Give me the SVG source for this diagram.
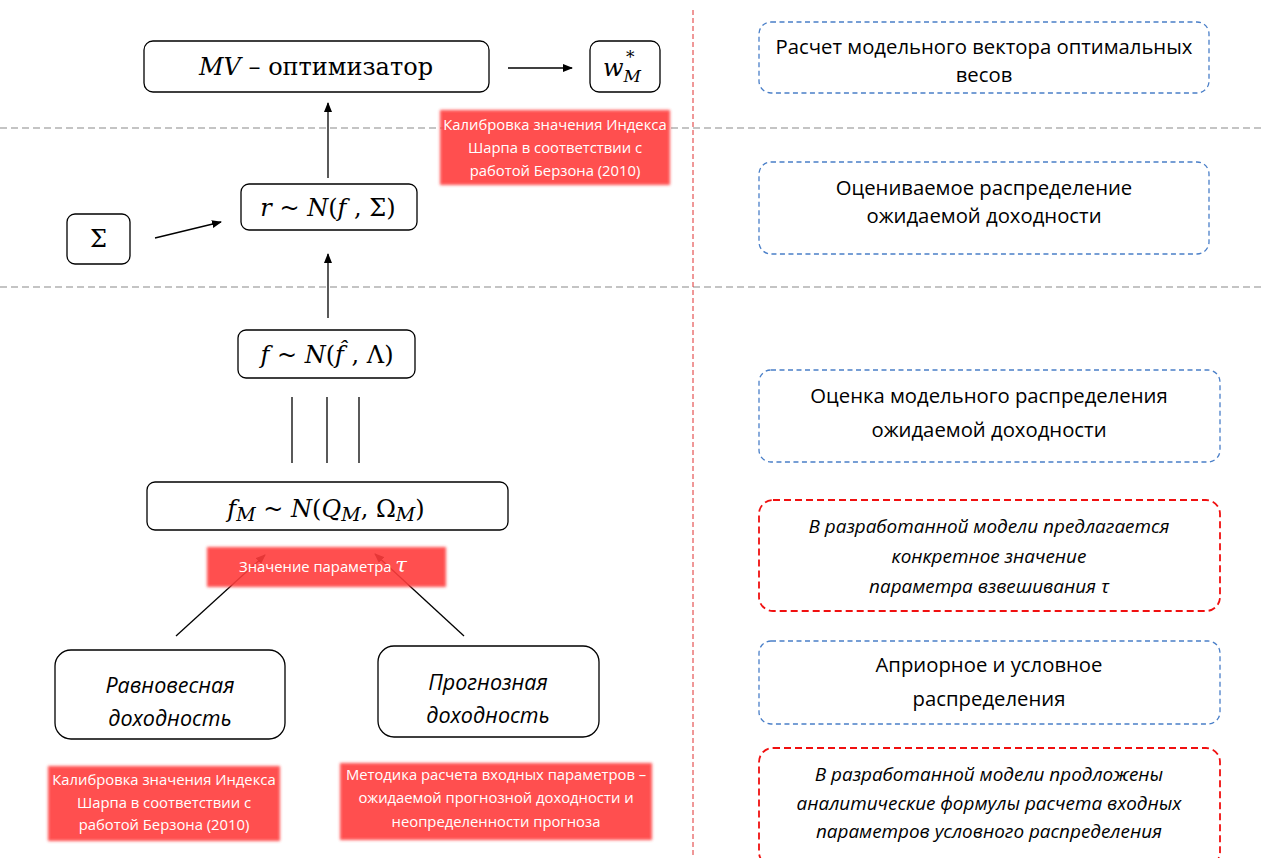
<svg xmlns="http://www.w3.org/2000/svg" width="1262" height="858" viewBox="0 0 1262 858">
<style>
.node{fill:#fff;stroke:#000;stroke-width:1.3}
.math{font-family:"DejaVu Serif","Liberation Serif",serif;font-size:24px;fill:#000}
.it{font-style:italic}
.note{font-family:"Open Sans",Lato,sans-serif;font-size:14.8px;fill:#fff}
.red{fill:#ff3d3d;opacity:0.9;filter:url(#soft)}
.bl{fill:none;stroke:#4a7fc8;stroke-width:1.3;stroke-dasharray:5,3.5}
.rd{fill:none;stroke:#f01010;stroke-width:1.8;stroke-dasharray:7,4}
.rt{font-family:"Open Sans",Lato,sans-serif;font-size:20.3px;fill:#000}
.ri{font-family:"Open Sans",Lato,sans-serif;font-size:18.9px;font-style:italic;fill:#000}
.lbl{font-family:"Open Sans",Lato,sans-serif;font-size:21.5px;font-style:italic;fill:#000}
.conn{stroke:#000;stroke-width:1.3;fill:none}
</style>
<defs>
<filter id="soft" x="-5%" y="-10%" width="110%" height="120%"><feGaussianBlur stdDeviation="1.5"/></filter>
<marker id="ah" markerWidth="10" markerHeight="8" refX="9" refY="4" orient="auto" markerUnits="userSpaceOnUse"><path d="M0,0 L10,4 L0,8 z" fill="#000"/></marker>
</defs>
<rect width="1262" height="858" fill="#fff"/>
<g id="separators">
<line x1="0" y1="128" x2="1262" y2="128" stroke="#8a8a8a" stroke-width="1.2" stroke-dasharray="7,4"/>
<line x1="0" y1="287" x2="1262" y2="287" stroke="#8a8a8a" stroke-width="1.2" stroke-dasharray="7,4"/>
<line x1="693" y1="10" x2="693" y2="858" stroke="#e03030" stroke-width="1" stroke-dasharray="5,3"/>
</g>
<g id="connectors">
<line class="conn" x1="508" y1="68" x2="572" y2="68" marker-end="url(#ah)"/>
<line class="conn" x1="328" y1="178" x2="328" y2="103" marker-end="url(#ah)"/>
<line class="conn" x1="155" y1="238" x2="221" y2="222" marker-end="url(#ah)"/>
<line class="conn" x1="328" y1="318" x2="328" y2="254" marker-end="url(#ah)"/>
<line class="conn" x1="292" y1="397" x2="292" y2="463"/>
<line class="conn" x1="327" y1="397" x2="327" y2="463"/>
<line class="conn" x1="359" y1="397" x2="359" y2="463"/>
<line class="conn" x1="176" y1="636" x2="265" y2="555" marker-end="url(#ah)"/>
<line class="conn" x1="464" y1="636" x2="375" y2="554" marker-end="url(#ah)"/>
</g>
<g id="mv">
<rect class="node" x="144" y="41" width="345" height="51" rx="9"/>
<text class="math" x="316" y="75" text-anchor="middle" font-size="23"><tspan class="it">MV</tspan> – оптимизатор</text>
</g>
<g id="w">
<rect class="node" x="590" y="41" width="70" height="51" rx="9"/>
<text class="math" x="603" y="76" font-size="26"><tspan class="it">w</tspan><tspan class="it" font-size="17" dy="6">M</tspan><tspan font-size="17" dx="-15" dy="-19">*</tspan></text>
</g>
<g id="note-sharpe-top">
<rect class="red" x="440" y="110" width="230" height="75"/>
<text class="note" x="555" text-anchor="middle"><tspan x="555" y="130">Калибровка значения Индекса</tspan><tspan x="555" y="153">Шарпа в соответствии с</tspan><tspan x="555" y="176">работой  Берзона (2010)</tspan></text>
</g>
<g id="r">
<rect class="node" x="241" y="184" width="176" height="46" rx="8"/>
<text class="math" x="328" y="216" text-anchor="middle" font-size="23.5"><tspan class="it">r</tspan> ~ <tspan class="it">N</tspan>(<tspan class="it">f</tspan> , Σ)</text>
</g>
<g id="sigma">
<rect class="node" x="67" y="214" width="63" height="50" rx="8"/>
<text class="math" x="98.5" y="247" text-anchor="middle">Σ</text>
</g>
<g id="f">
<rect class="node" x="238" y="330" width="177" height="48" rx="8"/>
<text class="math" x="327" y="363" text-anchor="middle" font-size="25"><tspan class="it">f</tspan> ~ <tspan class="it">N</tspan>(<tspan class="it">f̂</tspan> , Λ)</text>
</g>
<g id="fm">
<rect class="node" x="147" y="482" width="361" height="48" rx="8"/>
<text class="math" x="326" y="517" text-anchor="middle" font-size="27.5"><tspan class="it">f</tspan><tspan class="it" font-size="19" dy="4">M</tspan><tspan dy="-4"> ~ </tspan><tspan class="it">N</tspan>(<tspan class="it">Q</tspan><tspan class="it" font-size="19" dy="4">M</tspan><tspan dy="-4">, Ω</tspan><tspan class="it" font-size="19" dy="4">M</tspan><tspan dy="-4">)</tspan></text>
</g>
<g id="note-tau">
<rect class="red" x="207" y="547" width="239" height="40"/>
<text class="note" x="323" y="572" text-anchor="middle">Значение параметра <tspan font-family="DejaVu Serif,serif" font-style="italic" font-size="21">τ</tspan></text>
</g>
<g id="eq">
<rect class="node" x="55" y="650" width="230" height="89" rx="16"/>
<text class="lbl" text-anchor="middle"><tspan x="170" y="693">Равновесная</tspan><tspan x="170" y="726">доходность</tspan></text>
</g>
<g id="fc">
<rect class="node" x="378" y="646" width="221" height="91" rx="16"/>
<text class="lbl" text-anchor="middle"><tspan x="488" y="690">Прогнозная</tspan><tspan x="488" y="723">доходность</tspan></text>
</g>
<g id="note-sharpe-bottom">
<rect class="red" x="48" y="766" width="232" height="75"/>
<text class="note" text-anchor="middle"><tspan x="164" y="785">Калибровка значения Индекса</tspan><tspan x="164" y="808">Шарпа в соответствии с</tspan><tspan x="164" y="830">работой  Берзона (2010)</tspan></text>
</g>
<g id="note-method">
<rect class="red" x="340" y="763" width="312" height="77"/>
<text class="note" text-anchor="middle"><tspan x="496" y="780">Методика расчета входных параметров –</tspan><tspan x="496" y="803">ожидаемой прогнозной доходности и</tspan><tspan x="496" y="827">неопределенности прогноза</tspan></text>
</g>
<g id="desc1">
<rect class="bl" x="759" y="22" width="450" height="71" rx="12"/>
<text class="rt" text-anchor="middle"><tspan x="984" y="54">Расчет модельного вектора оптимальных</tspan><tspan x="984" y="82">весов</tspan></text>
</g>
<g id="desc2">
<rect class="bl" x="759" y="162" width="450" height="92" rx="12"/>
<text class="rt" text-anchor="middle"><tspan x="984" y="195">Оцениваемое распределение</tspan><tspan x="984" y="223">ожидаемой доходности</tspan></text>
</g>
<g id="desc3">
<rect class="bl" x="759" y="370" width="461" height="92" rx="12"/>
<text class="rt" text-anchor="middle"><tspan x="989" y="403">Оценка модельного распределения</tspan><tspan x="989" y="437">ожидаемой доходности</tspan></text>
</g>
<g id="desc4">
<rect class="rd" x="759" y="500" width="461" height="111" rx="14"/>
<text class="ri" text-anchor="middle"><tspan x="989" y="533">В разработанной модели предлагается</tspan><tspan x="989" y="563">конкретное значение</tspan><tspan x="989" y="593">параметра взвешивания τ</tspan></text>
</g>
<g id="desc5">
<rect class="bl" x="759" y="641" width="461" height="83" rx="12"/>
<text class="rt" text-anchor="middle"><tspan x="989" y="672">Априорное и условное</tspan><tspan x="989" y="706">распределения</tspan></text>
</g>
<g id="desc6">
<rect class="rd" x="759" y="748" width="461" height="118" rx="14"/>
<text class="ri" text-anchor="middle"><tspan x="989" y="781">В разработанной модели продложены</tspan><tspan x="989" y="810">аналитические формулы расчета входных</tspan><tspan x="989" y="838">параметров условного распределения</tspan></text>
</g>
</svg>
